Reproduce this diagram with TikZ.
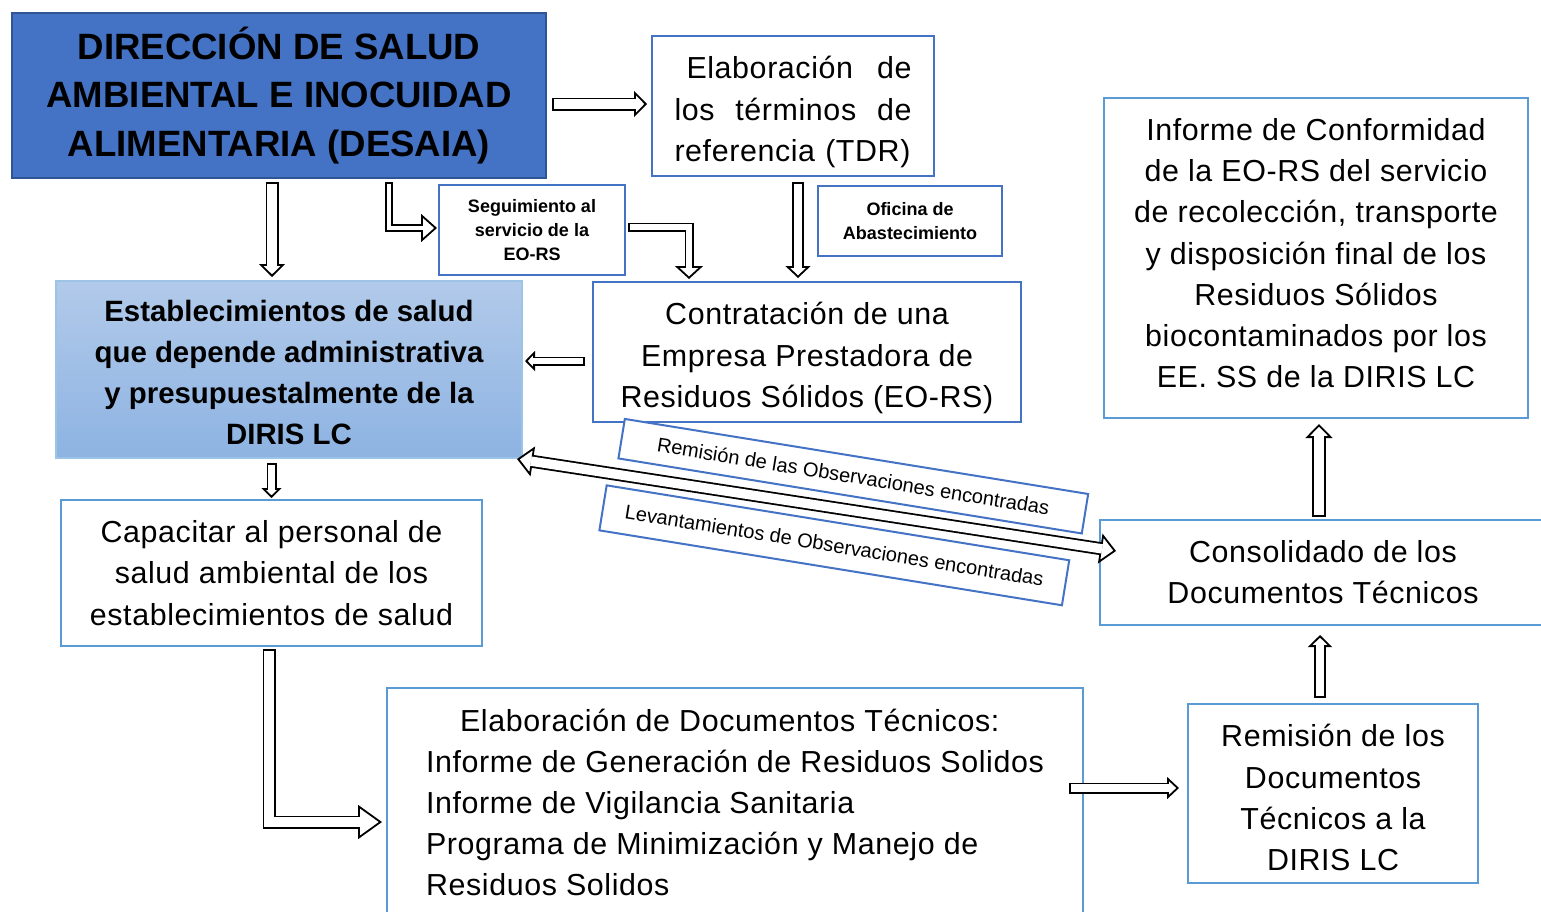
\documentclass[tikz,border=0pt]{standalone}
\usepackage{fontspec}
\setmainfont{Liberation Sans}
\newfontfamily\txtfont{Liberation Sans}[LetterSpace=2]
\usepackage{tikz}
\usetikzlibrary{arrows.meta,calc}

\definecolor{desblue}{HTML}{4472C4}
\definecolor{desedge}{HTML}{2F5597}
\definecolor{boxblue}{HTML}{4472C4}
\definecolor{lineblue}{HTML}{5B9BD5}
\definecolor{estabtop}{HTML}{B2CAEA}
\definecolor{estabbot}{HTML}{8DB3E2}
\definecolor{estabedge}{HTML}{9DC3E6}

\newcommand{\bodyfont}{\txtfont\fontsize{15.2}{20.6}\selectfont}

\tikzset{
  box/.style={draw=boxblue, line width=1pt, fill=white, align=center, inner sep=0pt, font=\bodyfont},
  lbox/.style={box, draw=lineblue},
  smallbox/.style={box, font=\bfseries\fontsize{9}{12.2}\selectfont},
  tiltbox/.style={box, font=\fontsize{10}{12}\selectfont},
  % hollow block arrows: shaft, head width, head length
  blk/.style n args={3}{preaction={draw=black, line width=#1, shorten <=0pt, shorten >=0pt,
      -{Triangle[width=#2, length=#3, line width=0.9pt, fill=white]}},
    draw=white, line width=#1-1.8pt, shorten <=0.9pt, shorten >=#3-1pt},
  dblk/.style n args={3}{preaction={draw=black, line width=#1, shorten <=0pt, shorten >=0pt,
      {Triangle[width=#2, length=#3, line width=0.9pt, fill=white]}-{Triangle[width=#2, length=#3, line width=0.9pt, fill=white]}},
    draw=white, line width=#1-1.8pt, shorten <=#3-1pt, shorten >=#3-1pt}
}

\begin{document}
\begin{tikzpicture}[x=0.5pt, y=-0.5pt]
    \useasboundingbox (0,0) rectangle (1541,911);

    % top row
    \node[box, draw=desedge, fill=desblue, minimum width=267pt, minimum height=82.5pt,
          font=\bfseries\fontsize{18.3}{24.3}\selectfont] (desaia) at (279,95.5)
          {DIRECCIÓN DE SALUD\\AMBIENTAL E INOCUIDAD\\ALIMENTARIA (DESAIA)};
    \node[box, minimum width=141pt, minimum height=70pt, text width=118.5pt, align=left] (tdr) at (793,106)
          {\rule{0pt}{17.3pt}\hspace*{6pt}Elaboración\hfill de\\los\hfill términos\hfill de\\referencia (TDR)};
    \node[smallbox, minimum width=93pt, minimum height=45pt] (seg) at (532,230) {Seguimiento al\\servicio de la\\EO-RS};
    \node[smallbox, minimum width=92pt, minimum height=35pt] (ofi) at (910,221) {Oficina de\\Abastecimiento};
    \node[lbox, minimum width=212pt, minimum height=160pt] (inf) at (1316,258)
          {Informe de Conformidad\\de la EO-RS del servicio\\de recolección, transporte\\y disposición final de los\\Residuos Sólidos\\biocontaminados por los\\EE. SS de la DIRIS LC\rule[-5pt]{0pt}{5pt}};

    % middle row
    \node[box, draw=estabedge, top color=estabtop, bottom color=estabbot, minimum width=233pt, minimum height=88.5pt,
          font=\bfseries\fontsize{14.7}{20.5}\selectfont] (estab) at (289,369.5)
          {\rule{0pt}{13.7pt}Establecimientos de salud\\que depende administrativa\\y presupuestalmente de la\\DIRIS LC};
    \node[box, minimum width=214pt, minimum height=70pt] (contr) at (807,352)
          {\rule{0pt}{17.3pt}Contratación de una\\Empresa Prestadora de\\Residuos Sólidos (EO-RS)};
    \node[tiltbox, rotate=-9.2, minimum width=234.7pt, minimum height=20pt] (remobs) at (853.3,476.2)
          {Remisión de las Observaciones encontradas};
    \node[tiltbox, rotate=-9.2, minimum width=234.3pt, minimum height=22.8pt] (levobs) at (834.3,545.3)
          {Levantamientos de Observaciones encontradas};
    \node[lbox, minimum width=210.5pt, minimum height=73pt] (capac) at (271.5,573)
          {Capacitar al personal de\\salud ambiental de los\\establecimientos de salud};
    \node[lbox, minimum width=223pt, minimum height=52.5pt] (consol) at (1323,572.5)
          {Consolidado de los\\Documentos Técnicos};

    % bottom row
    \node[lbox, minimum width=348pt, minimum height=114.5pt, align=left] (elab) at (735,802.5)
          {\hspace*{17pt}Elaboración de Documentos Técnicos:\\Informe de Generación de Residuos Solidos\\Informe de Vigilancia Sanitaria\\Programa de Minimización y Manejo de\\Residuos Solidos};
    \node[lbox, minimum width=145pt, minimum height=89.5pt] (remis) at (1333,793.5)
          {\rule{0pt}{15.3pt}Remisión de los\\Documentos\\Técnicos a la\\DIRIS LC};

    % arrows
    \draw[blk={6.5pt}{13pt}{6.5pt}] ($(desaia.east)+(5,8.5)$) -- ($(tdr.west)+(-4,-2)$);
    \draw[blk={6.5pt}{13pt}{6.5pt}] ($(desaia.south)+(-7,3)$) -- ($(estab.north)+(-17,-3)$);
    \draw[blk={4pt}{14pt}{8pt}] ($(desaia.south)+(110,3)$) |- ($(seg.west)+(-1,-2)$);
    \draw[blk={4.5pt}{14pt}{6.5pt}] ($(seg.east)+(2,-3)$) -| ($(contr.north)+(-118,-2)$);
    \draw[blk={6pt}{12.5pt}{6pt}] ($(tdr.south)+(5,5)$) -- ($(contr.north)+(-9,-3)$);
    \draw[blk={4.5pt}{10pt}{5pt}] ($(contr.west)+(-7,9)$) -- ($(estab.east)+(2,-8.5)$);
    \draw[blk={5pt}{10pt}{5pt}] ($(estab.south)+(-17.5,4)$) -- ($(capac.north)+(0,-1)$);
    \draw[blk={6.5pt}{17pt}{12pt}] ($(capac.south)+(-2.5,2)$) |- ($(elab.west)+(-4,19.5)$);
    \draw[blk={5.5pt}{11pt}{6pt}] ($(elab.east)+(-15,-14.5)$) -- ($(remis.west)+(-8,-5.5)$);
    \draw[blk={6pt}{12pt}{6pt}] ($(remis.north)+(-13,-5)$) -- ($(consol.south)+(-3,9)$);
    \draw[blk={7pt}{13.5pt}{7pt}] ($(consol.north)+(-4,-2)$) -- ($(inf.south)+(3,5)$);
    \draw[dblk={6.5pt}{15pt}{8pt}] ($(estab.south east)+(-6,0)$) -- ($(consol.west)+(17,-21.5)$);
\end{tikzpicture}
\end{document}
